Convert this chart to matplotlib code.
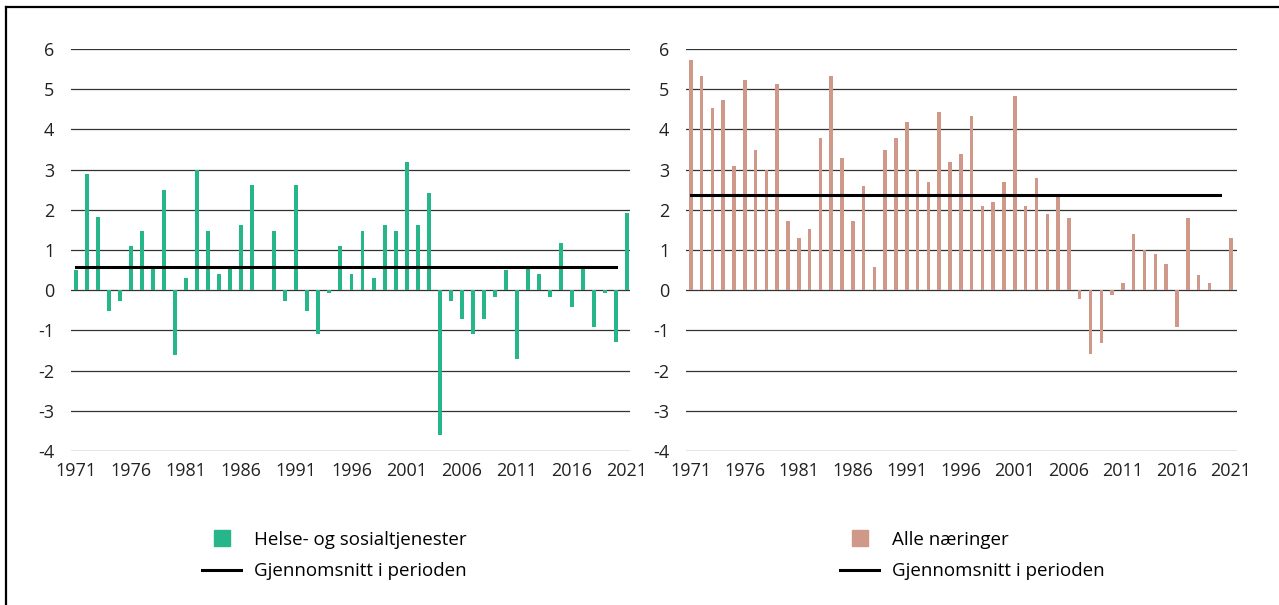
import numpy as np
import matplotlib
matplotlib.use("Agg")
import matplotlib.pyplot as plt
from matplotlib.lines import Line2D

plt.rcParams['font.family'] = ['Open Sans', 'DejaVu Sans']

years = np.arange(1971, 2022)

# Helse- og sosialtjenester (left panel)
helse = [0.5, 2.9, 1.82, -0.52, -0.28, 1.09, 1.48, 0.57, 2.5, -1.6,
         0.31, 2.99, 1.48, 0.4, 0.57, 1.62, 2.61, 0.0, 1.48, -0.28,
         2.61, -0.52, -1.1, -0.08, 1.09, 0.4, 1.48, 0.31, 1.62, 1.48,
         3.19, 1.62, 2.42, -3.6, -0.28, -0.72, -1.1, -0.72, -0.18, 0.5,
         -1.7, 0.57, 0.4, -0.18, 1.18, -0.42, 0.57, -0.92, -0.08, -1.3,
         1.92]
helse_mean = 0.58

# Alle naeringer (right panel)
alle = [5.72, 5.32, 4.53, 4.73, 3.1, 5.22, 3.5, 2.99, 5.13, 1.71,
        1.31, 1.51, 3.78, 5.32, 3.3, 1.71, 2.6, 0.57, 3.5, 3.78,
        4.18, 2.99, 2.69, 4.44, 3.2, 3.4, 4.33, 2.1, 2.2, 2.69,
        4.83, 2.1, 2.8, 1.9, 2.36, 1.8, -0.22, -1.59, -1.32, -0.12,
        0.17, 1.4, 1.0, 0.91, 0.66, -0.92, 1.79, 0.37, 0.17, 0.0,
        1.3]
alle_mean = 2.38

labels = ["Helse- og sosialtjenester", "Alle næringer"]
mean_label = "Gjennomsnitt i perioden"
xticks = np.arange(1971, 2022, 5)
yticks = np.arange(-4, 7, 1)

green = "#27b68a"
rose = "#cf9889"
W, H = 1279, 605

fig = plt.figure(figsize=(W / 100, H / 100), dpi=100)

panels = [
    (helse, helse_mean, green, labels[0], [71, 630], (1970.55, 2021.27), 0.36, 202),
    (alle, alle_mean, rose, labels[1], [686, 1237], (1970.56, 2021.56), 0.33, 840),
]

for vals, mean, color, label, (x0, x1), xlim, bw, leg_x in panels:
    ax = fig.add_axes([x0 / W, 1 - 451 / H, (x1 - x0) / W, (451 - 49) / H])
    ax.set_axisbelow(True)
    ax.bar(years, vals, width=bw, color=color, zorder=2)
    ax.plot([years[0], years[-2]], [mean, mean], color="black", lw=2.2, zorder=3)
    ax.set_xlim(*xlim)
    ax.set_ylim(-4, 6)
    ax.set_yticks(yticks)
    ax.set_yticklabels([str(v) for v in yticks])
    ax.set_xticks(xticks)
    ax.yaxis.grid(True, color="#333333", lw=0.9)
    ax.tick_params(axis="both", length=0, labelsize=13, colors="#222222")
    ax.tick_params(axis="y", pad=12)
    ax.tick_params(axis="x", pad=8)
    for s in ax.spines.values():
        s.set_visible(False)

    handles = [
        Line2D([], [], marker="s", linestyle="none", markersize=11.5,
               markerfacecolor=color, markeredgecolor=color),
        Line2D([], [], color="black", lw=2.2),
    ]
    fig.legend(handles, [label, mean_label], loc="upper left",
               bbox_to_anchor=(leg_x / W, 1 - 531 / H), frameon=False,
               fontsize=13.5, handlelength=2.1, handletextpad=0.7,
               labelspacing=0.7, borderpad=0, borderaxespad=0)

# frame on the left and top edge
fig.add_artist(Line2D([6 / W, 6 / W], [0, 1 - 7 / H], transform=fig.transFigure,
                      color="black", lw=1.6))
fig.add_artist(Line2D([6 / W, 1], [1 - 7 / H, 1 - 7 / H], transform=fig.transFigure,
                      color="black", lw=1.6))

fig.savefig("out.png", dpi=100)
